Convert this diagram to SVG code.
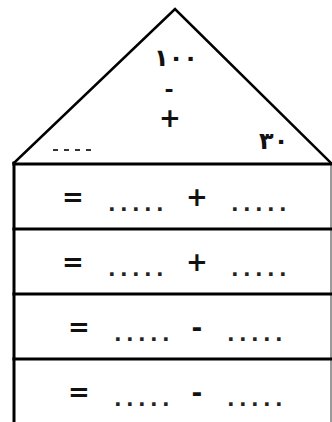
<svg xmlns="http://www.w3.org/2000/svg" width="332" height="422" viewBox="0 0 332 422">
<style>
.ln{stroke:#000;fill:none;stroke-linecap:square}
.t{font-family:"DejaVu Sans",sans-serif;fill:#111}
.op{font-family:"DejaVu Sans",sans-serif;font-size:26px;font-weight:bold;fill:#111;text-anchor:middle}
.dots{font-family:"DejaVu Sans",sans-serif;font-size:20px;font-weight:bold;fill:#222;letter-spacing:4.4px}
</style>
<rect width="332" height="422" fill="#fff"/>
<g id="roof">
<polyline class="ln" points="14,163 175,9 331,163" stroke-width="2.6" stroke-linejoin="miter"/>
<text class="t" x="154" y="66" font-size="24" font-weight="bold" letter-spacing="10">١٠٠</text>
<text class="t" x="169" y="97" font-size="22" font-weight="bold" text-anchor="middle">-</text>
<text class="t" x="170" y="127" font-size="26" font-weight="bold" text-anchor="middle">+</text>
<text class="t" x="259" y="149" font-size="24" font-weight="bold" letter-spacing="7">٣٠</text>
<g id="blank" fill="#333">
<rect x="53" y="149" width="5" height="2"/>
<rect x="64" y="149" width="5" height="2"/>
<rect x="75" y="149" width="5" height="2"/>
<rect x="86" y="149" width="5" height="2"/>
</g>
</g>
<g id="frame">
<line class="ln" x1="14" y1="163" x2="14" y2="422" stroke-width="3"/>
<line x1="331" y1="163" x2="331" y2="422" stroke="#777" stroke-width="1.5"/>
<line class="ln" x1="14" y1="164" x2="332" y2="164" stroke-width="3.2"/>
<line class="ln" x1="14" y1="229" x2="332" y2="229" stroke-width="3.2"/>
<line class="ln" x1="14" y1="294" x2="332" y2="294" stroke-width="3.2"/>
<line class="ln" x1="14" y1="359" x2="332" y2="359" stroke-width="3.2"/>
</g>
<g id="row1">
<text class="op" x="73" y="206">=</text>
<text class="dots" x="108" y="211">.....</text>
<text class="op" x="197" y="206">+</text>
<text class="dots" x="231" y="211">.....</text>
</g>
<g id="row2">
<text class="op" x="73" y="271">=</text>
<text class="dots" x="108" y="276">.....</text>
<text class="op" x="197" y="271">+</text>
<text class="dots" x="231" y="276">.....</text>
</g>
<g id="row3">
<text class="op" x="79" y="336">=</text>
<text class="dots" x="114" y="341">.....</text>
<text class="op" x="197" y="337" font-size="22">-</text>
<text class="dots" x="227" y="341">.....</text>
</g>
<g id="row4">
<text class="op" x="79" y="401">=</text>
<text class="dots" x="114" y="406">.....</text>
<text class="op" x="197" y="402" font-size="22">-</text>
<text class="dots" x="227" y="406">.....</text>
</g>
</svg>
